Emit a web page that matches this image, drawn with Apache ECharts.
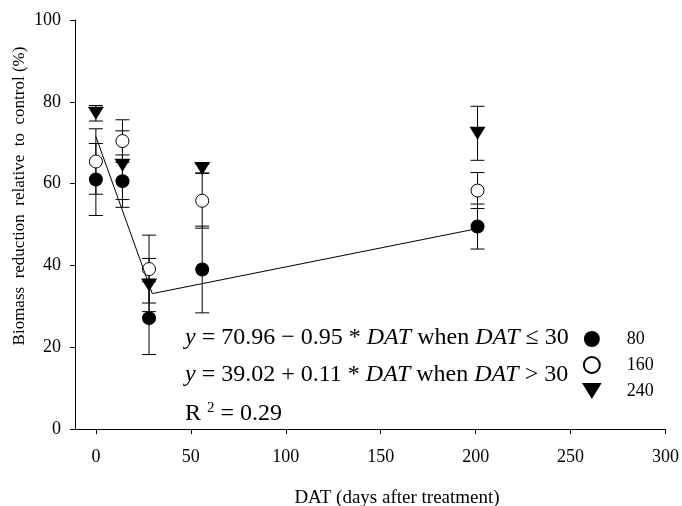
<!DOCTYPE html>
<html>
<head>
<meta charset="utf-8">
<script src="https://cdn.jsdelivr.net/npm/echarts@6/dist/echarts.min.js"></script>
<style>html,body{margin:0;padding:0;background:#fff}#c{width:682px;height:506px}</style>
</head>
<body>
<div id="c"></div>
<script>
// Data
const dat   = [0, 14, 28, 56, 201];
const y80   = [61.0, 60.6, 27.1, 39.0, 49.5];
const e80   = [8.8, 6.4, 8.9, 10.6, 5.5];
const y160  = [65.4, 70.4, 39.1, 55.8, 58.3];
const e160  = [8.0, 5.2, 8.3, 6.7, 4.4];
const y240  = [77.2, 64.5, 35.2, 63.7, 72.3];
const e240  = [1.9, 8.4, 6.5, 1.1, 6.6];
const fitX  = [0, 29.7, 201];
const fitY  = [71.5, 33.1, 49.0];
const xTicks = [0, 50, 100, 150, 200, 250, 300];
const seriesNames = ['80', '160', '240'];

const FONT = 'Liberation Serif';
const pts = (ys) => dat.map((d, i) => [d, ys[i]]);
const errs = [];
[[y80, e80], [y160, e160], [y240, e240]].forEach(([ys, es]) => {
  dat.forEach((d, i) => errs.push([d, ys[i] - es[i], ys[i] + es[i]]));
});
const fit = fitX.map((x, i) => [x, fitY[i]]);
const triDown = 'path://M0,0L16,0L8,13Z';

const chart = echarts.init(document.getElementById('c'), null, {renderer: 'canvas'});
chart.setOption({
  animation: false,
  backgroundColor: '#fff',
  grid: {left: 75, right: 12, top: 20, bottom: 77, containLabel: false},
  xAxis: {
    type: 'value', min: -11, max: 300,
    splitLine: {show: false},
    axisLine: {onZero: false, lineStyle: {color: '#000', width: 1}},
    axisTick: {show: true, length: 5, lineStyle: {color: '#000'}, customValues: xTicks},
    axisLabel: {customValues: xTicks, color: '#000', fontFamily: FONT, fontSize: 18, margin: 19}
  },
  yAxis: {
    type: 'value', min: 0, max: 100, interval: 20,
    splitLine: {show: false},
    axisLine: {show: true, onZero: false, lineStyle: {color: '#000', width: 1}},
    axisTick: {show: true, length: 5, lineStyle: {color: '#000'}},
    axisLabel: {color: '#000', fontFamily: FONT, fontSize: 18, margin: 14}
  },
  legend: {
    orient: 'vertical', left: 577, top: 325,
    itemWidth: 60, itemHeight: 16, itemGap: 8,
    data: seriesNames,
    textStyle: {color: '#000', fontFamily: FONT, fontSize: 18, lineHeight: 16}
  },
  graphic: [
    {type: 'text', x: 20, y: 196, rotation: Math.PI / 2,
     style: {text: 'Biomass  reduction  relative  to  control (%)', fontFamily: FONT, fontSize: 17,
             fill: '#000', align: 'center', verticalAlign: 'middle'}},
    {type: 'text', x: 397, y: 498,
     style: {text: 'DAT (days after treatment)', fontFamily: FONT, fontSize: 19,
             fill: '#000', align: 'center', verticalAlign: 'middle'}},
    {type: 'text', x: 185, y: 338,
     style: {text: '{i|y} = 70.96 \u2212 0.95 * {i|DAT} when {i|DAT} \u2264 30', fontFamily: FONT, fontSize: 24,
             fill: '#000', verticalAlign: 'middle',
             rich: {i: {fontStyle: 'italic', fontFamily: FONT, fontSize: 24, fill: '#000'}}}},
    {type: 'text', x: 185, y: 375,
     style: {text: '{i|y} = 39.02 + 0.11 * {i|DAT} when {i|DAT} > 30', fontFamily: FONT, fontSize: 24,
             fill: '#000', verticalAlign: 'middle',
             rich: {i: {fontStyle: 'italic', fontFamily: FONT, fontSize: 24, fill: '#000'}}}},
    {type: 'text', x: 185, y: 414,
     style: {text: '{n|R }{s|2}{n| = 0.29}', fontFamily: FONT, fontSize: 24,
             fill: '#000', verticalAlign: 'middle',
             rich: {n: {fontFamily: FONT, fontSize: 24, fill: '#000', lineHeight: 26},
                    s: {fontFamily: FONT, fontSize: 15, fill: '#000', verticalAlign: 'top', lineHeight: 26}}}}
  ],
  series: [
    {
      type: 'custom', name: 'err', silent: true,
      data: errs,
      encode: {x: 0, y: [1, 2]},
      renderItem: function (params, api) {
        const x = api.value(0);
        const lo = api.coord([x, api.value(1)]);
        const hi = api.coord([x, api.value(2)]);
        const w = 7;
        const st = {stroke: '#000', lineWidth: 1};
        return {type: 'group', children: [
          {type: 'line', shape: {x1: lo[0], y1: lo[1], x2: hi[0], y2: hi[1]}, style: st},
          {type: 'line', shape: {x1: lo[0] - w, y1: lo[1], x2: lo[0] + w, y2: lo[1]}, style: st},
          {type: 'line', shape: {x1: hi[0] - w, y1: hi[1], x2: hi[0] + w, y2: hi[1]}, style: st}
        ]};
      }
    },
    {
      type: 'line', name: 'fit', data: fit, showSymbol: false, symbol: 'none', silent: true,
      lineStyle: {color: '#000', width: 1}
    },
    {
      type: 'scatter', name: seriesNames[0], data: pts(y80), symbol: 'circle', symbolSize: 14,
      itemStyle: {color: '#000', opacity: 1}
    },
    {
      type: 'scatter', name: seriesNames[1], data: pts(y160), symbol: 'circle', symbolSize: 13,
      itemStyle: {color: '#fff', borderColor: '#000', borderWidth: 1, opacity: 1}
    },
    {
      type: 'scatter', name: seriesNames[2], data: pts(y240), symbol: triDown, symbolSize: [16, 13],
      itemStyle: {color: '#000', opacity: 1}
    }
  ]
});
</script>
</body>
</html>
